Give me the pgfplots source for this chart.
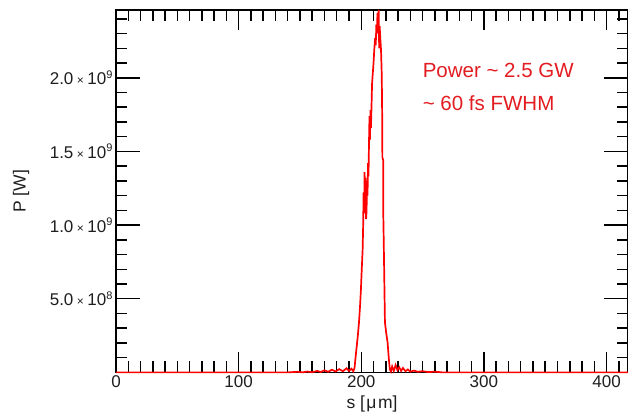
\documentclass[border=0pt]{standalone}
\usepackage{pgfplots}
\pgfplotsset{compat=1.18}
\usepackage{fontspec}
\setmainfont{Liberation Sans}
\definecolor{textred}{RGB}{226,28,32}
\definecolor{ticktext}{RGB}{30,30,30}
\newcommand{\sci}[2]{#1\hspace{3.5pt}{\fontsize{12}{12}\selectfont ×}\hspace{3.5pt}10\raisebox{6.5pt}{\fontsize{11}{11}\selectfont #2}}
\begin{document}
\begin{tikzpicture}
\begin{axis}[
  scale only axis, width=512pt, height=362.4pt,
  xmin=0, xmax=417.5, ymin=0, ymax=2.46e9,
  axis line style={line width=1.6pt, black},
  tick style={line width=1.5pt, black},
  tick align=inside,
  xtick pos=both, ytick pos=both,
  xtick={0,100,200,300,400,500}, xticklabels={0,100,200,300,400,},
  minor x tick num=9,
  ytick={0,5e8,1e9,1.5e9,2e9,2.5e9},
  yticklabels={,\sci{5.0}{8},\sci{1.0}{9},\sci{1.5}{9},\sci{2.0}{9},},
  extra y ticks={5e8,1e9,1.5e9,2e9},
  extra y tick labels={},
  extra y tick style={major tick length=24pt},
  scaled y ticks=false,
  minor y tick num=4,
  major tick length=20pt, minor tick length=11pt,
  tick label style={font=\fontsize{17}{20}\selectfont, text=ticktext},
  xlabel={s [\hspace{1.5pt}μ\hspace{1.5pt}m]}, ylabel={P [W]},
  every axis x label/.style={at={(axis description cs:0.5,0)}, anchor=center, yshift=-32pt, font=\fontsize{17.5}{20}\selectfont, text=ticktext},
  every axis y label/.style={at={(axis description cs:0,0.5)}, xshift=-95pt, rotate=90, anchor=center, font=\fontsize{17.5}{20}\selectfont, text=ticktext},
  clip=false,
]
\addplot[red, line width=1.7pt] coordinates {
(0,0) (140,0) (148,0.004e9) (152,0) (156,0.006e9) (160,0.001e9) (164,0.010e9)
(167,0.003e9) (170,0.014e9) (173,0.004e9) (176,0.018e9) (179,0.006e9) (182,0.022e9)
(185,0.008e9) (188,0.028e9) (190,0.010e9) (192,0.025e9) (193.5,0.008e9) (194.5,0.03e9)
(195.2,0.09e9) (196.2,0.17e9) (197.2,0.25e9) (198.1,0.335e9) (199.0,0.45e9)
(199.7,0.56e9) (200.5,0.72e9) (201.1,0.83e9) (201.5,0.98e9) (201.9,1.22e9)
(202.3,1.08e9) (202.7,1.36e9) (203.1,1.14e9) (203.5,1.32e9) (203.9,1.04e9)
(204.3,1.09e9) (204.7,1.30e9) (205.1,1.20e9) (205.5,1.42e9) (205.9,1.33e9)
(206.3,1.56e9) (206.7,1.74e9) (207.1,1.58e9) (207.5,1.78e9) (207.9,1.66e9)
(208.4,1.82e9) (208.8,1.96e9) (209.4,2.03e9) (210.0,2.10e9) (210.6,2.19e9)
(211.3,2.27e9) (211.8,2.22e9) (212.3,2.36e9) (212.8,2.30e9) (213.2,2.44e9)
(213.7,2.38e9) (214.2,2.46e9) (214.6,2.20e9) (215.0,2.35e9) (215.5,2.27e9)
(216.1,2.19e9) (216.7,2.02e9) (217.1,1.70e9) (217.2,1.46e9) (217.9,1.44e9)
(218.0,1.05e9) (218.3,0.90e9) (218.8,0.62e9) (219.3,0.34e9) (220.3,0.27e9)
(221.5,0.20e9) (222.4,0.10e9) (223.3,0.02e9) (224.2,0.006e9) (225.2,0.040e9)
(226.5,0.010e9) (228.0,0.050e9) (229.5,0.015e9) (231.0,0.035e9) (232.5,0.010e9)
(234.0,0.030e9) (236.0,0.008e9) (238.0,0.020e9) (240.0,0.005e9) (243.0,0.012e9)
(246.0,0.004e9) (250.0,0.008e9) (255.0,0.002e9) (260.0,0.005e9) (266.0,0) (417.5,0)
};
\node[anchor=base west, textred, font=\fontsize{20.5}{24}\selectfont, inner sep=0pt]
  at (axis cs:250,2.0e9) {Power \textasciitilde\ 2.5 GW};
\node[anchor=base west, textred, font=\fontsize{20.5}{24}\selectfont, inner sep=0pt]
  at (axis cs:250,1.775e9) {\textasciitilde\ 60 fs FWHM};
\coordinate (sw) at (rel axis cs:0,0);
\coordinate (ne) at (rel axis cs:1,1);
\end{axis}
\pgfresetboundingbox
\path[use as bounding box] ([shift={(-116pt,-41.6pt)}]sw) rectangle ([shift={(0pt,10pt)}]ne);
\end{tikzpicture}
\end{document}
